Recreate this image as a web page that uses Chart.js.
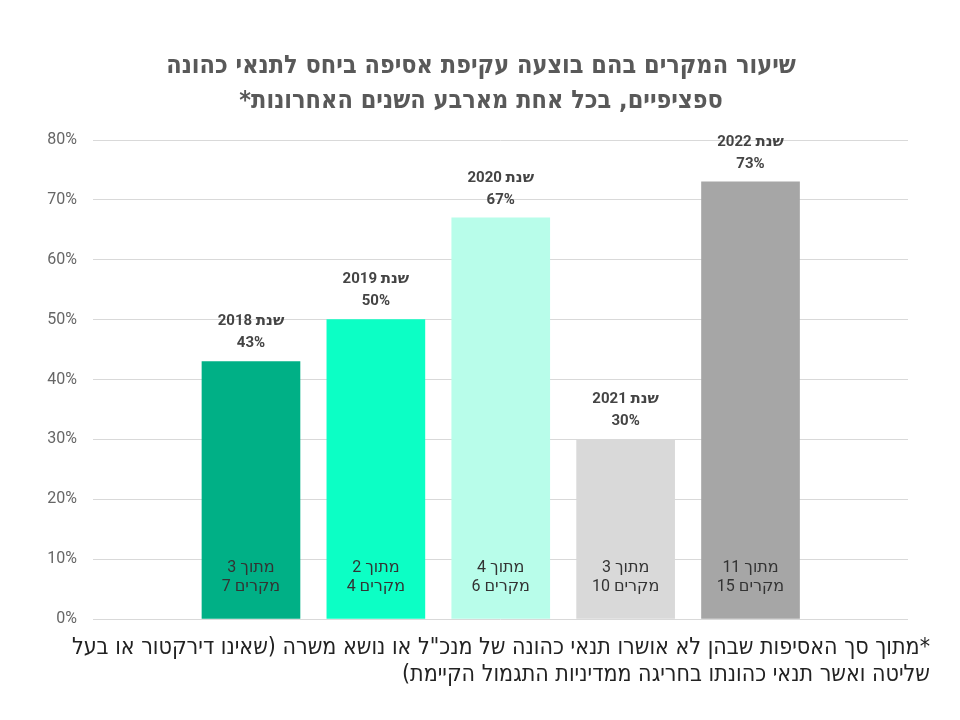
<!DOCTYPE html>
<html lang="he">
<head>
<meta charset="utf-8">
<script src="https://cdn.jsdelivr.net/npm/chart.js@4.4.1/dist/chart.umd.min.js"></script>
<style>
  html, body { margin: 0; padding: 0; background: #fff; }
  #wrap { width: 960px; height: 720px; }
</style>
</head>
<body>
<div id="wrap"><canvas id="chart" width="960" height="720"></canvas></div>
<script>
const years = ['2018', '2019', '2020', '2021', '2022'];
const rates = [43, 50, 67, 30, 73];
const approved = [3, 2, 4, 3, 11];
const totals = [7, 4, 6, 10, 15];
const barColors = ['#00B086', '#0CFFC5', '#B8FDEA', '#D9D9D9', '#A6A6A6'];
const yTicks = [0, 10, 20, 30, 40, 50, 60, 70, 80];

const titleLines = [
    'שיעור המקרים בהם בוצעה עקיפת אסיפה ביחס לתנאי כהונה',
    'ספציפיים, בכל אחת מארבע השנים האחרונות*'
];
const noteLines = [
    '*מתוך סך האסיפות שבהן לא אושרו תנאי כהונה של מנכ"ל או נושא משרה (שאינו דירקטור או בעל',
    'שליטה ואשר תנאי כהונתו בחריגה ממדיניות התגמול הקיימת)'
];

const narrow = "'Liberation Sans Narrow', 'Arial Narrow', 'DejaVu Sans Condensed', sans-serif";
const roboto = "Roboto, 'DejaVu Sans', sans-serif";

// number on the left, hebrew word on the right, centred on x
function numWord(ctx, num, word, x, y) {
    ctx.direction = 'ltr';
    const wn = ctx.measureText(num).width;
    const ws = ctx.measureText(' ').width;
    const ww = ctx.measureText(word).width;
    const x0 = x - (wn + ws + ww) / 2;
    ctx.textAlign = 'left';
    ctx.fillText(num, x0, y);
    ctx.fillText(word, x0 + wn + ws, y);
}

// title, footnote and bar labels
const textPlugin = {
    id: 'texts',
    afterDatasetsDraw(chart) {
        const ctx = chart.ctx;
        ctx.save();
        ctx.textBaseline = 'middle';

        ctx.direction = 'rtl';
        ctx.textAlign = 'center';
        ctx.fillStyle = '#595959';
        ctx.font = 'bold 25px ' + narrow;
        ctx.fillText(titleLines[0], 481, 66);
        ctx.fillText(titleLines[1], 481, 101);

        ctx.textAlign = 'right';
        ctx.fillStyle = '#222';
        ctx.font = '23px ' + narrow;
        ctx.fillText(noteLines[0], 930, 648);
        ctx.fillText(noteLines[1], 930, 675);

        const meta = chart.getDatasetMeta(0);
        const base = chart.scales.y.getPixelForValue(0);
        meta.data.forEach((bar, i) => {
            ctx.fillStyle = '#444';
            ctx.font = 'bold 15px ' + roboto;
            numWord(ctx, years[i], 'שנת', bar.x, bar.y - 40);
            ctx.textAlign = 'center';
            ctx.fillText(rates[i] + '%', bar.x, bar.y - 18);

            ctx.fillStyle = '#333';
            ctx.font = '16px ' + roboto;
            numWord(ctx, String(approved[i]), 'מתוך', bar.x, base - 51);
            numWord(ctx, String(totals[i]), 'מקרים', bar.x, base - 32);
        });
        ctx.restore();
    }
};

const ctx = document.getElementById('chart').getContext('2d');
new Chart(ctx, {
    type: 'bar',
    data: {
        datasets: [{
            data: rates.map((v, i) => ({ x: i, y: v })),
            backgroundColor: barColors,
            barThickness: 98
        }]
    },
    options: {
        responsive: false,
        animation: false,
        layout: { padding: { top: 140, bottom: 101, right: 52, left: 0 } },
        plugins: {
            legend: { display: false },
            title: { display: false },
            tooltip: { enabled: false }
        },
        scales: {
            x: {
                type: 'linear',
                display: false,
                offset: false,
                min: -1.265,
                max: 5.261
            },
            y: {
                min: 0,
                max: 80,
                afterFit(scale) { scale.width = 93; },
                afterBuildTicks(scale) { scale.ticks = yTicks.map(v => ({ value: v })); },
                border: { display: false },
                grid: { color: '#D9D9D9', drawTicks: false, lineWidth: 1 },
                ticks: {
                    padding: 16,
                    color: '#666',
                    font: { family: roboto, size: 16 },
                    callback: v => v + '%'
                }
            }
        }
    },
    plugins: [textPlugin]
});
</script>
</body>
</html>
